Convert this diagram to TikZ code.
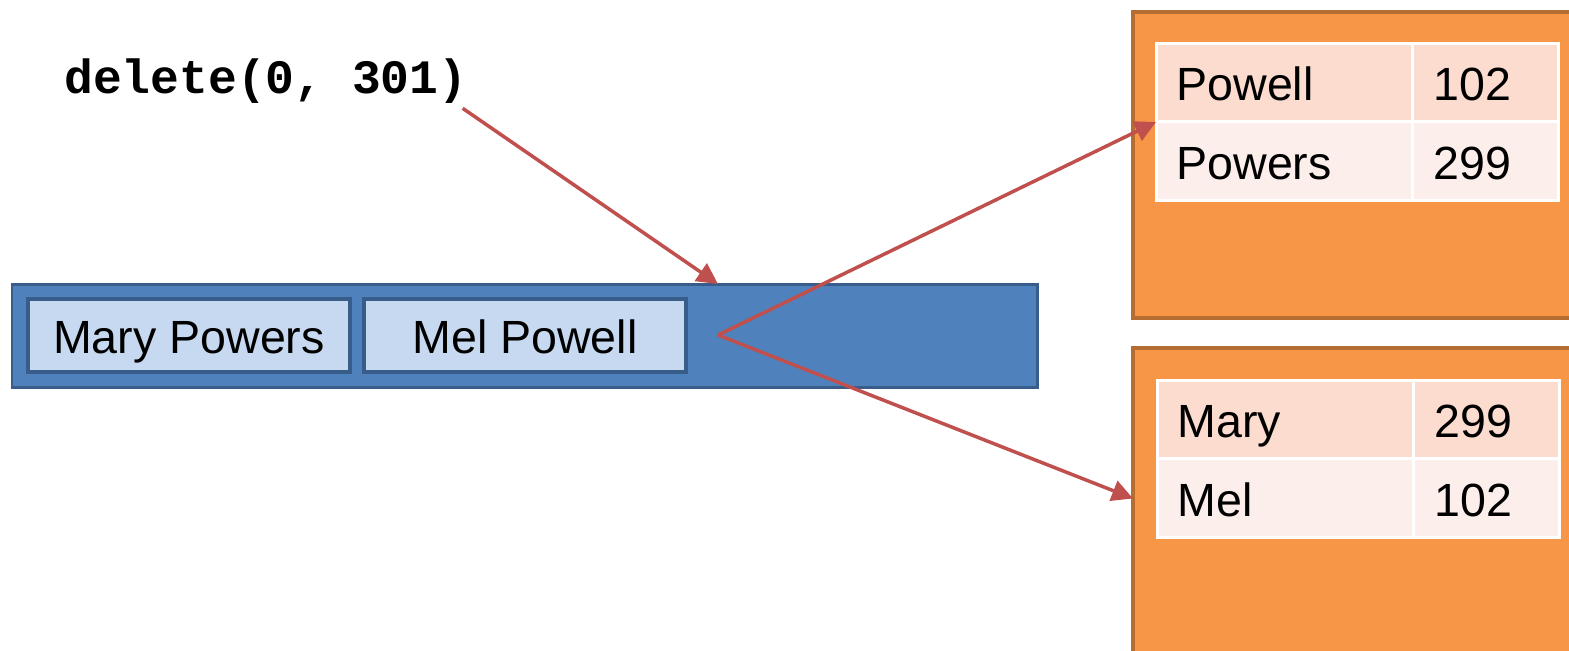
\documentclass[tikz,border=0pt]{standalone}
\usepackage{fontspec}
\setmainfont{Liberation Sans}
\newfontfamily\codefont{Liberation Mono}
\usetikzlibrary{arrows.meta,positioning}
\definecolor{barblue}{HTML}{4F81BD}
\definecolor{bardark}{HTML}{385D8A}
\definecolor{celllight}{HTML}{C6D9F1}
\definecolor{boxorange}{HTML}{F79646}
\definecolor{boxdark}{HTML}{B66D31}
\definecolor{rowone}{HTML}{FBDCCF}
\definecolor{rowtwo}{HTML}{FCEEEA}
\definecolor{arrowred}{HTML}{C0504D}

\begin{document}
\begin{tikzpicture}[x=0.02cm,y=-0.02cm,
    txt/.style={font=\fontsize{26.5pt}{30pt}\selectfont,text height=24pt,text depth=3pt},
    slot/.style={txt,draw=bardark,fill=celllight,line width=0.08cm,inner sep=0,outer sep=0,
                 minimum width=6.44cm,minimum height=1.46cm,anchor=north west},
    page/.style={draw=boxdark,fill=boxorange,line width=0.08cm,inner sep=0,outer sep=0,
                 minimum width=9.34cm,anchor=north west},
    entry/.style={txt,draw=white,line width=0.06cm,inner xsep=0.41cm,inner ysep=0,outer sep=0,
                  minimum height=1.58cm,text width=#1,align=left},
    link/.style={draw=arrowred,line width=0.07cm,-{Triangle[length=0.42cm,width=0.42cm]}}]
  \clip (0,0) rectangle (1569,650);
  % command
  \node (cmd) [anchor=base west,inner sep=0,font=\codefont\bfseries\fontsize{27.3pt}{30pt}\selectfont]
    at (64,93) {delete(0, 301)};
  % blue bar with two slots
  \node (bar) [draw=bardark,fill=barblue,line width=0.06cm,inner sep=0,outer sep=0,anchor=north west,
    minimum width=20.52cm,minimum height=2.08cm] at (12,284) {};
  \node (mary) [slot] at (28,299) {Mary Powers};
  \node (mel) [slot] at (364,299) {Mel Powell};
  \coordinate (fork) at (718,335);
  % top orange page
  \node (topbox) [page,minimum height=6.12cm] at (1133,12) {};
  \node (powell) [entry=4.32cm,fill=rowone,anchor=north west] at (1156,43) {Powell};
  \node (powellid) [entry=2.1cm,fill=rowone,right=0pt of powell] {102};
  \node (powers) [entry=4.32cm,fill=rowtwo,below=0pt of powell] {Powers};
  \node (powersid) [entry=2.1cm,fill=rowtwo,right=0pt of powers] {299};
  % bottom orange page
  \node (lowbox) [page,minimum height=7.04cm] at (1133,348) {};
  \node (maryname) [entry=4.32cm,fill=rowone,anchor=north west] at (1157,380) {Mary};
  \node (maryid) [entry=2.1cm,fill=rowone,right=0pt of maryname] {299};
  \node (melname) [entry=4.32cm,fill=rowtwo,below=0pt of maryname] {Mel};
  \node (melid) [entry=2.1cm,fill=rowtwo,right=0pt of melname] {102};
  % arrows
  \draw [link] ([xshift=-0.1cm,yshift=-0.1cm]cmd.south east) -- (bar.north -| fork);
  \draw [link] (fork) -- (powell.south west);
  \draw [link] (fork) -- (lowbox.west |- melname);
\end{tikzpicture}
\end{document}
